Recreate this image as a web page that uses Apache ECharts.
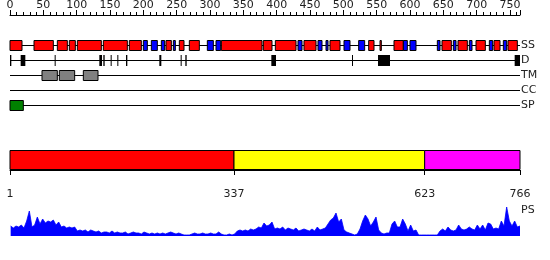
<!DOCTYPE html>
<html><head><meta charset="utf-8">
<script src="https://cdn.jsdelivr.net/npm/echarts@6/dist/echarts.min.js"></script>
<style>html,body{margin:0;padding:0;background:#fff}#c{width:550px;height:260px}</style>
</head><body><div id="c"></div>
<script>
const seqLength = 766;
const trackNames = ['SS', 'D', 'TM', 'CC', 'SP'];
const ssHelix = [[0,18],[36,65],[71,86],[89,98],[101,137],[140,176],[179,197],[234,242],[254,261],[269,284],[317,378],[380,393],[398,429],[441,459],[480,495],[538,546],[555,557],[576,590],[648,662],[672,686],[699,713],[726,735],[747,761]];
const ssStrand = [[200,206],[212,221],[227,232],[245,248],[296,305],[309,316],[432,438],[462,468],[474,477],[501,510],[523,532],[590,596],[600,609],[641,645],[665,669],[689,693],[719,724],[740,745]];
const disorder = [[0,2],[16,23],[67,68],[134,138],[140,142],[151,152],[161,162],[174,176],[224,227],[256,257],[263,265],[392,399],[513,514],[552,570],[757,765]];
const tmSegments = [[48,71],[74,97],[110,132]];
const ccSegments = [];
const spSegments = [[0,20]];
const domains = [[1,337],[337,623],[623,766]];
const domainColors = ['#ff0000', '#ffff00', '#ff00ff'];
const domainTicks = [1, 337, 623, 766];
const psStart = 1, psStep = 4;
const psValues = [
 10,8,10,9,11,8,15,25,
 9,11,19,12,17,13,15,14,
 16,11,14,9,10,8,9,8,
 9,5,6,5,6,4,6,5,
 4,5,3,4,4,3,5,3,
 4,3,3,4,2,3,4,3,
 3,2,4,3,2,3,2,3,
 2,3,2,3,4,3,2,3,
 2,1,1,1,2,3,2,2,
 3,2,2,3,2,2,4,2,
 1,1,2,1,2,5,6,5,
 6,5,7,6,7,9,8,13,
 10,11,14,7,8,7,9,6,
 8,7,6,8,5,6,7,6,
 5,7,5,9,6,7,8,12,
 16,18,23,14,17,6,4,3,
 2,1,2,7,15,21,17,10,
 14,19,6,3,2,3,3,12,
 15,9,9,17,12,5,11,5,
 6,1,1,1,1,1,1,1,
 1,5,7,5,9,6,5,6,
 11,7,6,7,9,7,6,11,
 7,11,6,13,12,7,8,7,
 15,10,29,15,10,15,9,10
];

const chart = echarts.init(document.getElementById('c'), null, {renderer: 'canvas'});

function segItems(list, track, color) {
  return list.map(s => ({value: [s[0], s[1], track], itemStyle: {color: color}}));
}
const boxData = [].concat(
  segItems(ssHelix, 'SS', '#ff0000'),
  segItems(ssStrand, 'SS', '#0000ff'),
  segItems(tmSegments, 'TM', '#808080'),
  segItems(ccSegments, 'CC', '#808080'),
  segItems(spSegments, 'SP', '#008000')
);
const disData = disorder.map(s => [s[0], s[1], 'D']);
const lineData = trackNames.map(n => [0, seqLength - 1, n]);

function renderBox(params, api) {
  const p0 = api.coord([api.value(0), api.value(2)]);
  const p1 = api.coord([api.value(1), api.value(2)]);
  const cy = Math.round(p0[1]);
  return {type: 'rect', shape: {x: p0[0], y: cy - 5 + 0.5, width: Math.max(p1[0] - p0[0], 1), height: 10},
    style: {fill: api.visual('color'), stroke: '#000', lineWidth: 1}};
}
function renderDis(params, api) {
  const p0 = api.coord([api.value(0), api.value(2)]);
  const p1 = api.coord([api.value(1), api.value(2)]);
  const cy = Math.round(p0[1]);
  return {type: 'rect', shape: {x: p0[0], y: cy - 5, width: Math.max(p1[0] - p0[0], 1), height: 11},
    style: {fill: '#000'}};
}
function renderLine(params, api) {
  const p0 = api.coord([api.value(0), api.value(2)]);
  const p1 = api.coord([api.value(1), api.value(2)]);
  const cy = Math.round(p0[1]) + 0.5;
  return {type: 'line', shape: {x1: p0[0], y1: cy, x2: p1[0], y2: cy}, style: {stroke: '#000', lineWidth: 1}};
}
function renderDomain(params, api) {
  const p0 = api.coord([api.value(0), 0]);
  const p1 = api.coord([api.value(1), 0]);
  return {type: 'rect', shape: {x: p0[0], y: 150.5, width: p1[0] - p0[0], height: 19},
    style: {fill: domainColors[params.dataIndex], stroke: '#000', lineWidth: 1}};
}

const labelFont = {fontFamily: 'DejaVu Sans', fontSize: 11, color: '#222'};

chart.setOption({
  animation: false,
  backgroundColor: '#fff',
  grid: [
    {left: 10, width: 510, top: 37.5, height: 75},
    {left: 10, width: 510, top: 150, height: 20},
    {left: 10, width: 510, top: 204, height: 32}
  ],
  xAxis: [
    {gridIndex: 0, type: 'value', position: 'top', offset: 22.5, min: 0, max: seqLength - 1, interval: 50,
     axisLine: {show: true, lineStyle: {color: '#000', width: 1}},
     axisTick: {show: true, length: 5, lineStyle: {color: '#000'}},
     minorTick: {show: true, splitNumber: 5, length: 3, lineStyle: {color: '#000'}},
     axisLabel: Object.assign({margin: 4, showMaxLabel: false}, labelFont),
     splitLine: {show: false}},
    {gridIndex: 1, type: 'value', position: 'bottom', offset: 12, min: 1, max: seqLength,
     axisLine: {show: true, lineStyle: {color: '#000', width: 1}},
     axisTick: {show: true, length: 5, customValues: domainTicks, lineStyle: {color: '#000'}},
     axisLabel: Object.assign({margin: 7, customValues: domainTicks}, labelFont),
     splitLine: {show: false}},
    {gridIndex: 2, type: 'value', min: 0, max: seqLength - 1, show: false}
  ],
  yAxis: [
    {gridIndex: 0, type: 'category', data: trackNames, inverse: true, position: 'right',
     axisLine: {show: false}, axisTick: {show: false}, splitLine: {show: false},
     axisLabel: Object.assign({margin: 1, align: 'left'}, labelFont)},
    {gridIndex: 1, type: 'value', min: 0, max: 1, show: false},
    {gridIndex: 2, type: 'value', min: 0, max: 32, show: false}
  ],
  graphic: [{type: 'text', left: 521, top: 205, style: {text: 'PS', font: '11px "DejaVu Sans"', fill: '#222'}}],
  series: [
    {type: 'custom', xAxisIndex: 0, yAxisIndex: 0, renderItem: renderLine, data: lineData, encode: {x: [0, 1], y: 2}, z: 1},
    {type: 'custom', xAxisIndex: 0, yAxisIndex: 0, renderItem: renderBox, data: boxData, encode: {x: [0, 1], y: 2}, z: 2},
    {type: 'custom', xAxisIndex: 0, yAxisIndex: 0, renderItem: renderDis, data: disData, encode: {x: [0, 1], y: 2}, z: 2},
    {type: 'custom', xAxisIndex: 1, yAxisIndex: 1, renderItem: renderDomain, data: domains, encode: {x: [0, 1]}},
    {type: 'line', xAxisIndex: 2, yAxisIndex: 2, showSymbol: false, symbol: 'none',
     data: psValues.map((v, i) => [psStart + i * psStep, v]),
     lineStyle: {color: '#0000ff', width: 0.8}, areaStyle: {color: '#0000ff', opacity: 1}}
  ]
});
</script></body></html>
